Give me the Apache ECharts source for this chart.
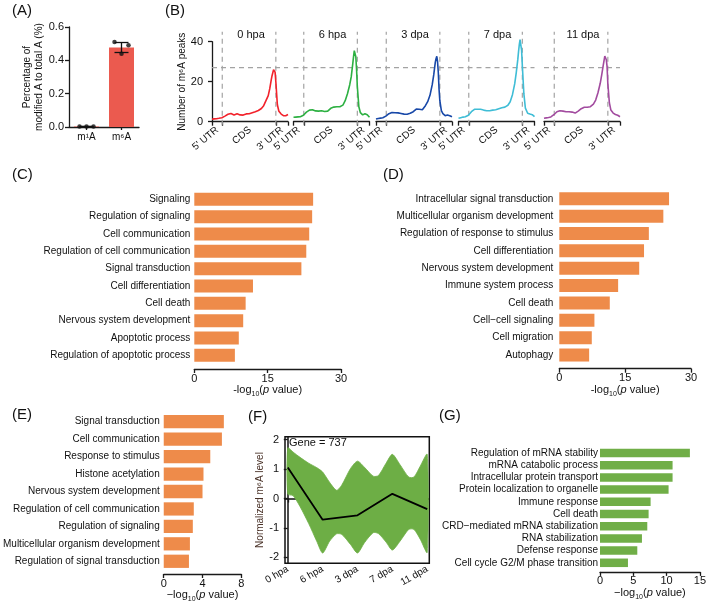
<!DOCTYPE html>
<html>
<head>
<meta charset="utf-8">
<title>m6A figure</title>
<script src="https://cdn.jsdelivr.net/npm/echarts@6.0.0/dist/echarts.min.js"></script>
<style>
html,body{margin:0;padding:0;background:#ffffff;}
#chart{width:709px;height:604px;}
</style>
</head>
<body>
<div id="chart"></div>
<script>
// ================= DATA =================
// (A) percentage of modified A
const aCategories = ['m\u00B9A', 'm\u2076A'];
const aMeans = [0.003, 0.477];
const aSD = [0.001, 0.03];
const aRepM1A = [0.003, 0.003, 0.003];
const aRepM6A = [0.51, 0.49, 0.44];

// (B) metagene profiles of m6A peaks (x = metagene position, %)
const bStages = ['0 hpa', '6 hpa', '3 dpa', '7 dpa', '11 dpa'];
const bRegionLabels = ["5' UTR", 'CDS', "3' UTR"];
const bBins = [0,3,6,9,13,17,21,25,29,33,37,41,45,49,53,57,61,65,68,71,74,76,78,79,80,81,82,83,84,86,88,91,94,97,100];
const b0hpa  = [1.3,1.4,1.5,1.7,2.0,2.8,3.7,4.1,3.4,4.0,3.4,3.3,3.9,4.0,4.5,5.0,5.6,6.6,8.0,10.5,13,16.5,21,23,24.5,26,26.4,24.8,20,8.5,5.2,3.8,3.0,3.0,3.6];
const b6hpa  = [2.2,2.3,2.4,2.5,3.2,4.8,5.8,6.0,5.4,5.3,5.5,5.1,5.3,6.7,7.3,7.5,7.5,8.3,10.5,14,18.5,22.5,29,32.5,35.5,35.5,32.5,26,17.5,7.5,4.5,3.4,4.0,3.5,2.2];
const b3dpa  = [1.3,1.6,1.8,2.0,2.8,4.0,4.6,4.5,4.4,4.1,3.8,3.7,4.2,5.0,6.3,6.2,6.0,8.0,10,13.2,18.5,23.5,29.7,31.5,32.7,30,24.5,16,10.5,5.5,4,3,3.3,3.0,2.5];
const b7dpa  = [1.7,2.0,2.3,2.5,3.2,5.0,6.2,6.2,6.2,5.8,5.5,5.5,5.8,6.0,6.5,7.0,7.3,8.2,10,13.5,19,24.5,31,35,38.5,41,40,35.8,28,14,6.8,4.2,3.8,3.5,2.5];
const b11dpa = [1.7,1.9,2.1,2.4,3.5,5.0,5.5,5.3,5.0,5.0,4.8,4.3,5.3,6.5,7.2,7.2,7.5,8.8,10.8,14.5,19.2,23.5,28.3,30.5,32.8,33.5,31,27.5,19,9.5,5.8,4.3,3.6,3.2,2.5];
const bRegionBounds = [13.5, 84];
const bRefLevel = 27;

// (C)
const cTerms = ['Signaling','Regulation of signaling','Cell communication','Regulation of cell communication','Signal transduction','Cell differentiation','Cell death','Nervous system development','Apoptotic process','Regulation of apoptotic process'];
const cValues = [24.3, 24.1, 23.5, 22.9, 21.9, 12.0, 10.5, 10.0, 9.1, 8.3];

// (D)
const dTerms = ['Intracellular signal transduction','Multicellular organism development','Regulation of response to stimulus','Cell differentiation','Nervous system development','Immune system process','Cell death','Cell\u2212cell signaling','Cell migration','Autophagy'];
const dValues = [25.0, 23.7, 20.4, 19.3, 18.2, 13.4, 11.5, 8.0, 7.4, 6.8];

// (E)
const eTerms = ['Signal transduction','Cell communication','Response to stimulus','Histone acetylation','Nervous system development','Regulation of cell communication','Regulation of signaling','Multicellular organism development','Regulation of signal transduction'];
const eValues = [6.2, 6.0, 4.8, 4.1, 4.0, 3.1, 3.0, 2.7, 2.6];

// (F)
const fTimepoints = ['0 hpa','6 hpa','3 dpa','7 dpa','11 dpa'];
const fMean = [1.05, -0.72, -0.57, 0.16, -0.36];
const fBandX = [0, 0.15, 0.35, 0.6, 0.83, 1.0, 1.2, 1.4, 1.55, 1.8, 2.0, 2.2, 2.45, 2.6, 2.82, 3.0, 3.22, 3.47, 3.62, 3.8, 4.0];
const fUpper = [1.72, 1.58, 1.4, 1.2, 1.05, 0.9, 0.55, 0.28, 0.46, 1.02, 1.27, 1.06, 0.76, 0.78, 1.2, 1.5, 1.15, 0.73, 0.73, 1.1, 1.5];
const fLower = [0.15, 0.1, -0.27, -0.85, -1.45, -1.85, -1.45, -1.2, -1.22, -1.56, -1.85, -1.5, -1.16, -1.19, -1.48, -1.75, -1.45, -1.05, -1.05, -1.38, -1.83];
const fYTicks = [-2, -1, 0, 1, 2];
const fGeneCount = 737;

// (G)
const gTerms = ['Regulation of mRNA stability','mRNA catabolic process','Intracellular protein transport','Protein localization to organelle','Immune response','Cell death','CRD\u2212mediated mRNA stabilization','RNA stabilization','Defense response','Cell cycle G2/M phase transition'];
const gValues = [13.5, 10.9, 10.9, 10.3, 7.6, 7.3, 7.1, 6.3, 5.6, 4.2];

// ================= STYLE / LAYOUT =================
const FONT = '"Liberation Sans", Arial, Helvetica, sans-serif';
const INK = '#111111';
const AXL = {color: '#1a1a1a', width: 1.3};
const ORANGE = '#EE8B4A';
const GREEN = '#70AE47';

const grids = [], xAxes = [], yAxes = [], series = [], graphics = [];

function pTitle(minus) { return '{t|' + minus + 'log}{s|10}{t|(}{i|p}{t| value)}'; }
const pRich = {
  t: {fontSize: 11, lineHeight: 14, color: INK, fontFamily: FONT},
  s: {fontSize: 7, lineHeight: 8, verticalAlign: 'bottom', color: INK, fontFamily: FONT},
  i: {fontSize: 11, lineHeight: 14, fontStyle: 'italic', color: INK, fontFamily: FONT}
};

function addText(text, x, y, size, align) {
  graphics.push({type: 'text', x: x, y: y, silent: true,
    style: {text: text, fill: INK, fontSize: size, fontFamily: FONT,
      align: align || 'left', verticalAlign: 'middle', textAlign: align || 'left', textVerticalAlign: 'middle'}});
}

// ---------- (A) ----------
(function () {
  const gi = grids.length;
  grids.push({left: 69, top: 27, width: 70, height: 100});
  const xi = xAxes.length;
  xAxes.push({type: 'category', gridIndex: gi, data: aCategories,
    axisLine: {show: true, lineStyle: AXL}, axisTick: {show: true, alignWithLabel: true, length: 3, lineStyle: AXL},
    axisLabel: {fontSize: 10, color: INK, margin: 5, fontFamily: FONT, interval: 0}});
  const xv = xAxes.length;
  xAxes.push({type: 'value', gridIndex: gi, min: 0, max: 2, show: false});
  const yi = yAxes.length;
  yAxes.push({type: 'value', gridIndex: gi, min: 0, max: 0.6, interval: 0.2,
    axisLine: {show: true, lineStyle: AXL}, axisTick: {show: true, length: 4, lineStyle: AXL},
    axisLabel: {fontSize: 11, color: INK, margin: 5, fontFamily: FONT, formatter: v => v.toFixed(1)},
    splitLine: {show: false},
    name: 'Percentage of\nmodified A to total A (%)', nameLocation: 'middle', nameGap: 19,
    nameTextStyle: {fontSize: 10, lineHeight: 12, color: INK, fontFamily: FONT}});
  series.push({type: 'bar', xAxisIndex: xi, yAxisIndex: yi, data: aMeans, barWidth: 25,
    itemStyle: {color: '#EB5A4F'}, silent: true});
  series.push({type: 'custom', xAxisIndex: xi, yAxisIndex: yi,
    data: aMeans.map((m, i) => [i, m, aSD[i]]),
    renderItem: function (params, api) {
      const i = api.value(0), m = api.value(1), s = api.value(2);
      const top = api.coord([i, m + s]), bot = api.coord([i, m - s]);
      const st = {stroke: '#111', lineWidth: 1.3};
      return {type: 'group', children: [
        {type: 'line', shape: {x1: top[0], y1: top[1], x2: bot[0], y2: bot[1]}, style: st},
        {type: 'line', shape: {x1: top[0] - 7, y1: top[1], x2: top[0] + 7, y2: top[1]}, style: st},
        {type: 'line', shape: {x1: bot[0] - 7, y1: bot[1], x2: bot[0] + 7, y2: bot[1]}, style: st}
      ]};
    }, silent: true, z: 5});
  const jit = [-0.2, 0.2, 0];
  const dots = [];
  [aRepM1A, aRepM6A].forEach((reps, ci) => reps.forEach((v, k) => dots.push([ci + 0.5 + jit[k], v])));
  series.push({type: 'scatter', xAxisIndex: xv, yAxisIndex: yi, data: dots, symbolSize: 4.5,
    itemStyle: {color: '#111'}, silent: true, z: 6});
})();

// ---------- (B) ----------
(function () {
  const profiles = [b0hpa, b6hpa, b3dpa, b7dpa, b11dpa];
  const colors = ['#F2222B', '#2DB042', '#1848A8', '#3FBDD6', '#A24B9F'];
  const lefts = [212, 293.5, 376, 458.5, 544];
  const labelAt = [7, 50, 92];
  const dash = {color: '#a3a3a3', width: 1.2, type: [5, 4]};
  bStages.forEach((st, i) => {
    const gi = grids.length;
    grids.push({left: lefts[i], top: 41.7, width: 76, height: 80});
    const xi = xAxes.length;
    xAxes.push({type: 'value', gridIndex: gi, min: 0, max: 100, offset: 3,
      axisLine: {show: true, lineStyle: AXL},
      axisTick: {show: true, length: 4, lineStyle: AXL, customValues: [0, bRegionBounds[0], bRegionBounds[1], 100]},
      axisLabel: {show: true, customValues: labelAt, formatter: v => bRegionLabels[labelAt.indexOf(v)],
        rotate: 40, fontSize: 10, margin: 4, color: INK, fontFamily: FONT},
      splitLine: {show: false}});
    const yi = yAxes.length;
    if (i === 0) {
      yAxes.push({type: 'value', gridIndex: gi, min: 0, max: 40, interval: 20, offset: 4,
        axisLine: {show: true, lineStyle: AXL}, axisTick: {show: true, length: 4, lineStyle: AXL},
        axisLabel: {fontSize: 11, color: INK, margin: 5, fontFamily: FONT},
        splitLine: {show: false},
        name: 'Number of m\u2076A peaks', nameLocation: 'middle', nameGap: 19,
        nameTextStyle: {fontSize: 10, color: INK, fontFamily: FONT}});
    } else {
      yAxes.push({type: 'value', gridIndex: gi, min: 0, max: 40, show: false, splitLine: {show: false}});
    }
    const guides = [
      [[bRegionBounds[0], -1.5], [bRegionBounds[0], 45]],
      [[bRegionBounds[1], -1.5], [bRegionBounds[1], 45]],
      [[0, bRefLevel], [100, bRefLevel]]
    ];
    guides.forEach(d => series.push({type: 'line', xAxisIndex: xi, yAxisIndex: yi, data: d,
      symbol: 'none', lineStyle: dash, clip: false, silent: true, z: 1}));
    series.push({type: 'line', xAxisIndex: xi, yAxisIndex: yi,
      data: bBins.map((b, j) => [b, profiles[i][j]]),
      symbol: 'none', lineStyle: {color: colors[i], width: 1.6}, itemStyle: {color: colors[i]},
      clip: false, silent: true, z: 3});
    addText(st, lefts[i] + 39, 35, 11, 'center');
  });
})();

// ---------- bar panels (C, D, E, G) ----------
function barPanel(cfg) {
  const gi = grids.length;
  grids.push({left: cfg.left, top: cfg.top, width: cfg.width, height: cfg.height});
  const xi = xAxes.length;
  xAxes.push({type: 'value', gridIndex: gi, min: 0, max: cfg.max, interval: cfg.interval, offset: cfg.offset,
    axisLine: {show: true, lineStyle: AXL}, axisTick: {show: true, length: 4, lineStyle: AXL},
    axisLabel: {fontSize: 11, color: INK, margin: 4, fontFamily: FONT},
    splitLine: {show: false},
    name: pTitle(cfg.minus), nameLocation: 'middle', nameGap: cfg.nameGap,
    nameTextStyle: {rich: pRich}});
  const yi = yAxes.length;
  yAxes.push({type: 'category', gridIndex: gi, data: cfg.terms, inverse: true,
    axisLine: {show: false}, axisTick: {show: false},
    axisLabel: {fontSize: 10, color: INK, margin: cfg.labelMargin, fontFamily: FONT, interval: 0}});
  series.push({type: 'bar', xAxisIndex: xi, yAxisIndex: yi, data: cfg.values,
    barCategoryGap: cfg.gap, itemStyle: {color: cfg.color}, silent: true});
}

barPanel({left: 194.3, top: 190.7, width: 146.7, height: 173.3, max: 30, interval: 15, offset: 5,
  minus: '-', nameGap: 12, terms: cTerms, values: cValues, labelMargin: 4, gap: '25%', color: ORANGE});
barPanel({left: 559.3, top: 190.1, width: 131.7, height: 173.6, max: 30, interval: 15, offset: 5,
  minus: '-', nameGap: 12, terms: dTerms, values: dValues, labelMargin: 6, gap: '25%', color: ORANGE});
barPanel({left: 157.3, top: 413, width: 84, height: 157, max: 8, interval: 4, offset: 4,
  minus: '\u2212', nameGap: 14, terms: eTerms, values: eValues, labelMargin: 4, gap: '24%', color: ORANGE});
barPanel({left: 600, top: 446.9, width: 103.3, height: 122, max: 15, interval: 5, offset: 3,
  minus: '\u2212', nameGap: 14, terms: gTerms, values: gValues, labelMargin: 2, gap: '30%', color: GREEN});

// ---------- (F) ----------
(function () {
  const gi = grids.length;
  grids.push({left: 285, top: 436.7, width: 144.3, height: 126.6, show: true,
    borderColor: '#111', borderWidth: 1.5, backgroundColor: 'transparent'});
  const xi = xAxes.length;
  const tIdx = fTimepoints.map((t, i) => i);
  xAxes.push({type: 'value', gridIndex: gi, min: -0.08, max: 4.06,
    axisLine: {show: true, lineStyle: {color: '#111', width: 1.5}},
    axisTick: {show: true, length: 4, lineStyle: AXL, customValues: tIdx},
    axisLabel: {customValues: tIdx, formatter: v => fTimepoints[v], rotate: 30, fontSize: 10, margin: 5,
      color: INK, fontFamily: FONT},
    splitLine: {show: false}});
  const yi = yAxes.length;
  yAxes.push({type: 'value', gridIndex: gi, min: -2.2, max: 2.1,
    axisLine: {show: true, lineStyle: {color: '#111', width: 1.5}},
    axisTick: {show: true, length: 4, lineStyle: AXL, customValues: fYTicks},
    axisLabel: {customValues: fYTicks, fontSize: 11, margin: 6, color: INK, fontFamily: FONT},
    splitLine: {show: false},
    name: 'Normalized m\u2076A level', nameLocation: 'middle', nameGap: 13,
    nameTextStyle: {fontSize: 10, color: '#4a3228', fontFamily: FONT}});
  series.push({type: 'custom', xAxisIndex: xi, yAxisIndex: yi, data: [[0, 0]], silent: true, z: 2,
    renderItem: function (params, api) {
      const up = fBandX.map((x, i) => api.coord([x, fUpper[i]]));
      const lo = fBandX.map((x, i) => api.coord([x, fLower[i]])).reverse();
      return {type: 'polygon', shape: {points: up.concat(lo), smooth: 0.25},
        style: {fill: '#6DAE45', stroke: '#6DAE45', lineWidth: 0.8}};
    }});
  series.push({type: 'line', xAxisIndex: xi, yAxisIndex: yi,
    data: fMean.map((v, i) => [i, v]), symbol: 'none',
    lineStyle: {color: '#000', width: 1.8}, itemStyle: {color: '#000'}, silent: true, z: 4});
  addText('Gene = ' + fGeneCount, 289, 443, 11, 'left');
})();

// ---------- panel letters ----------
[['(A)', 12, 11], ['(B)', 165, 11], ['(C)', 12, 175], ['(D)', 383, 175],
 ['(E)', 12, 415], ['(F)', 248, 417], ['(G)', 439, 416]].forEach(p => addText(p[0], p[1], p[2], 15, 'left'));

const chart = echarts.init(document.getElementById('chart'), null, {renderer: 'canvas', width: 709, height: 604});
chart.setOption({
  animation: false,
  backgroundColor: '#ffffff',
  textStyle: {fontFamily: FONT},
  grid: grids,
  xAxis: xAxes,
  yAxis: yAxes,
  series: series,
  graphic: graphics
});
</script>
</body>
</html>
